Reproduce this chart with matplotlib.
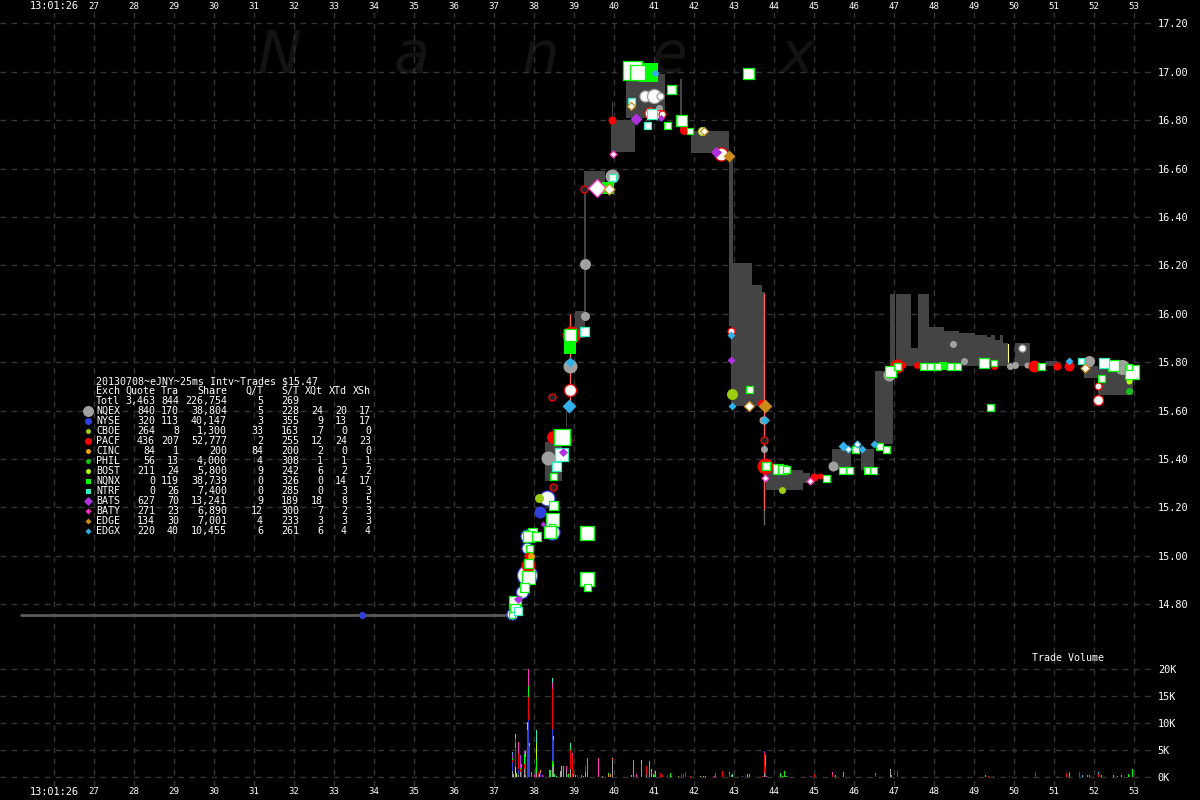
#!/usr/bin/env python3
"""Nanex style trade chart: 13:01:26 on 2013-07-08, eJNY, 25ms interval."""
import matplotlib
matplotlib.use("Agg")
import matplotlib.pyplot as plt

W, H = 1200, 800
BG = "#000000"
GRID = "#363636"
BAND = "#444444"
MONO = "DejaVu Sans Mono"

# summary table
EXCH = ["Totl", "NQEX", "NYSE", "CBOE", "PACF", "CINC", "PHIL", "BOST", "NQNX", "NTRF", "BATS", "BATY", "EDGE", "EDGX"]
QUOTE = [3463, 840, 320, 264, 436, 84, 56, 211, 0, 0, 627, 271, 134, 220]
TRA = [844, 170, 113, 8, 207, 1, 13, 24, 119, 26, 70, 23, 30, 40]
SHARE = [226754, 38804, 40147, 1300, 52777, 200, 4000, 5800, 38739, 7400, 13241, 6890, 7001, 10455]
Q_T = [5, 5, 3, 33, 2, 84, 4, 9, 0, 0, 9, 12, 4, 6]
S_T = [269, 228, 355, 163, 255, 200, 308, 242, 326, 285, 189, 300, 233, 261]
XQT = ["", 24, 9, 7, 12, 2, 1, 6, 0, 0, 18, 7, 3, 6]
XTD = ["", 20, 13, 0, 24, 0, 1, 2, 14, 3, 8, 2, 3, 4]
XSH = ["", 17, 17, 0, 23, 0, 1, 2, 17, 3, 5, 3, 3, 4]
LEGEND_SZ = [11, 7, 5, 7, 5, 5, 5, 5, 5, 9, 6, 6, 6]

COLORS = {"NQEX": "#a0a0a0", "NYSE": "#3040e0", "CBOE": "#9acd10", "PACF": "#ff0000", "CINC": "#f5a000",
          "PHIL": "#18c018", "BOST": "#b4ff00", "NQNX": "#00ff00", "NTRF": "#30f0c0", "BATS": "#b030e0",
          "BATY": "#ff30c0", "EDGE": "#c88a18", "EDGX": "#30b0e8"}
SHAPES = {"NQEX": "o", "NYSE": "o", "CBOE": "o", "PACF": "o", "CINC": "o", "PHIL": "o", "BOST": "o",
          "NQNX": "s", "NTRF": "s", "BATS": "D", "BATY": "D", "EDGE": "D", "EDGX": "D"}

# price axis ticks
PRICE_TICKS = [17.2, 17.0, 16.8, 16.6, 16.4, 16.2, 16.0, 15.8, 15.6, 15.4, 15.2, 15.0, 14.8]
VOL_TICKS = [0, 5000, 10000, 15000, 20000]
VOL_LABELS = ["0K", "5K", "10K", "15K", "20K"]
SECONDS = list(range(27, 54))

# quote band (best bid / offer) pieces
BAND_T0 = [38.27, 39.02, 39.24, 39.92, 40.29, 41.65, 39.93, 39.24, 38.80, 41.92, 42.86, 42.86, 42.92, 43.44, 43.69,
           43.79, 44.72, 45.44, 46.17, 46.52, 46.89, 47.04, 47.42, 47.59, 47.87, 48.24, 48.62, 49.02, 49.32, 49.42,
           49.52, 49.64, 49.72, 50.02, 50.79, 51.74, 52.09]
BAND_T1 = [38.69, 39.27, 39.77, 40.52, 41.27, 41.69, 39.96, 39.28, 38.83, 42.87, 42.96, 42.92, 43.44, 43.69, 43.77,
           44.72, 44.89, 45.92, 46.49, 46.97, 47.02, 47.42, 47.59, 47.87, 48.24, 48.62, 49.02, 49.32, 49.42, 49.52,
           49.64, 49.72, 49.84, 50.39, 51.09, 52.09, 52.97]
BAND_LO = [15.31, 15.90, 16.51, 16.67, 16.81, 16.76, 16.80, 15.99, 15.53, 16.665, 16.21, 15.95, 15.62, 15.62, 15.62,
           15.27, 15.30, 15.355, 15.355, 15.46, 15.765, 15.785, 15.785, 15.785, 15.785, 15.785, 15.785, 15.785,
           15.785, 15.785, 15.785, 15.785, 15.785, 15.785, 15.785, 15.735, 15.665]
BAND_HI = [15.47, 16.01, 16.59, 16.80, 16.99, 16.97, 16.875, 16.51, 15.60, 16.755, 16.635, 16.635, 16.21, 16.12, 16.09,
           15.355, 15.34, 15.44, 15.44, 15.765, 16.08, 16.08, 15.86, 16.08, 15.945, 15.93, 15.92, 15.91, 15.905, 15.91,
           15.89, 15.91, 15.88, 15.88, 15.805, 15.785, 15.77]

FLAT_T = [25.14, 37.4]
FLAT_P = [14.757, 14.757]

# kind: 0 quote (filled), 1 trade (white centre), 2 ring with dark centre
NQEX_T = [39.27, 39.27, 38.89, 38.34, 39.94, 43.74, 43.72, 45.47, 46.87, 48.47, 48.74, 49.89, 50.02, 50.32, 51.87, 52.69, 41.74, 41.12, 40.77, 40.99, 41.14, 50.19]
NQEX_P = [16.205, 15.99, 15.785, 15.405, 16.57, 15.44, 15.56, 15.37, 15.745, 15.875, 15.805, 15.785, 15.79, 15.79, 15.805, 15.78, 16.78, 16.85, 16.90, 16.90, 16.90, 15.86]
NQEX_SZ = [11, 9, 14, 14, 14, 7, 8, 10, 12, 7, 7, 7, 7, 6, 11, 15, 6, 7, 11, 14, 7, 7]
NQEX_K = [0, 0, 0, 0, 0, 0, 0, 0, 0, 0, 0, 0, 0, 0, 0, 0, 0, 0, 1, 1, 1, 1]

NYSE_T = [33.7, 38.14, 38.32, 38.44, 37.82, 37.82, 37.82, 37.69, 37.44]
NYSE_P = [14.757, 15.18, 15.24, 15.10, 15.08, 15.03, 14.92, 14.85, 14.76]
NYSE_SZ = [7, 12, 15, 15, 13, 11, 20, 12, 11]
NYSE_K = [0, 0, 1, 1, 1, 1, 1, 1, 1]

CBOE_T = [38.12, 42.94, 44.19, 42.19]
CBOE_P = [15.24, 15.67, 15.27, 16.755]
CBOE_SZ = [9, 11, 7, 8]
CBOE_K = [0, 0, 0, 1]

PACF_T = [39.94, 41.69, 41.74, 47.22, 47.57, 49.49, 50.49, 51.07, 51.37, 39.27, 37.84, 37.84, 38.47, 43.77, 47.07, 38.92,
          44.99, 45.14, 43.67, 42.67, 42.92, 52.09, 52.09, 38.89, 40.89, 41.09, 41.19, 39.24, 38.84, 38.44, 38.47, 43.74]
PACF_P = [16.80, 16.80, 16.76, 15.79, 15.79, 15.785, 15.785, 15.785, 15.785, 15.93, 14.96, 15.00, 15.49, 15.37, 15.785, 15.91,
          15.325, 15.33, 15.63, 16.66, 15.93, 15.645, 15.70, 15.685, 16.83, 16.825, 16.825, 16.515, 15.48, 15.655, 15.285, 15.48]
PACF_SZ = [8, 11, 9, 6, 7, 7, 12, 8, 10, 7, 14, 8, 13, 16, 14, 18, 8, 6, 7, 13, 7, 10, 7, 12, 11, 8, 7, 7, 7, 7, 7, 7]
PACF_K = [0, 0, 0, 0, 0, 0, 0, 0, 0, 0, 0, 0, 0, 0, 0, 0, 0, 0, 0, 1, 1, 1, 1, 1, 1, 1, 1, 2, 2, 2, 2, 2]

CINC_T = [37.92]
CINC_P = [15.00]
CINC_SZ = [7]
CINC_K = [0]

PHIL_T = [52.87]
PHIL_P = [15.68]
PHIL_SZ = [7]
PHIL_K = [0]

BOST_T = [52.87]
BOST_P = [15.72]
BOST_SZ = [6]
BOST_K = [0]

NQNX_T = [40.84, 39.84, 38.89, 48.22, 40.44, 40.57, 43.34, 41.42, 39.32, 39.32, 39.32, 52.94, 49.39, 47.72, 47.89, 48.07, 48.39, 48.57,
          46.89, 47.07, 49.24, 49.49, 50.67, 52.47, 52.17, 52.87, 43.37, 43.79, 44.09, 44.19, 44.29, 45.29, 45.69, 45.87, 46.02, 46.32, 46.47,
          46.62, 46.79, 38.69, 38.54, 38.47, 38.47, 38.44, 38.44, 38.39, 37.94, 37.84, 38.04, 37.87, 37.84, 37.84, 37.74, 37.52, 37.52, 37.44,
          41.32, 41.67, 41.89, 38.89]
NQNX_P = [17.0, 16.52, 15.86, 15.785, 17.005, 17.0, 16.995, 16.93, 15.095, 14.905, 14.87, 15.76, 15.615, 15.785, 15.785, 15.785, 15.785, 15.785,
          15.765, 15.785, 15.795, 15.795, 15.785, 15.79, 15.735, 15.78, 15.69, 15.37, 15.36, 15.36, 15.36, 15.32, 15.355, 15.355, 15.44, 15.355, 15.355,
          15.455, 15.44, 15.49, 15.37, 15.33, 15.21, 15.15, 15.12, 15.10, 15.10, 15.08, 15.08, 15.03, 14.97, 14.91, 14.87, 14.81, 14.78, 14.755,
          16.78, 16.80, 16.755, 15.91]
NQNX_SZ = [19, 12, 12, 8, 19, 15, 11, 9, 14, 14, 7, 14, 7, 7, 7, 7, 7, 7,
           11, 7, 10, 6, 7, 11, 7, 6, 7, 8, 10, 9, 7, 7, 7, 7, 7, 7, 7,
           7, 7, 16, 8, 7, 9, 13, 6, 12, 9, 11, 9, 7, 9, 13, 9, 12, 10, 6,
           7, 11, 6, 12]
NQNX_K = [0, 0, 0, 0] + [1] * 56

NTRF_T = [40.42, 39.94, 40.82, 40.94, 39.24, 38.67, 38.54, 52.24, 51.67, 37.59]
NTRF_P = [16.88, 16.565, 16.78, 16.825, 15.93, 15.42, 15.37, 15.795, 15.805, 14.77]
NTRF_SZ = [7, 7, 7, 10, 9, 13, 9, 10, 6, 8]
NTRF_K = [1] * 10

BATS_T = [40.54, 42.92, 42.54, 38.72, 37.59, 41.17, 38.22]
BATS_P = [16.805, 15.81, 16.67, 15.43, 14.82, 16.81, 15.13]
BATS_SZ = [12, 8, 11, 9, 9, 7, 6]
BATS_K = [0] * 7

BATY_T = [39.57, 39.97, 43.77, 44.89]
BATY_P = [16.52, 16.66, 15.32, 15.31]
BATY_SZ = [18, 7, 7, 7]
BATY_K = [1, 1, 1, 1]

EDGE_T = [42.87, 43.77, 39.87, 40.42, 42.24, 51.77, 43.37]
EDGE_P = [16.65, 15.62, 16.515, 16.86, 16.755, 15.775, 15.62]
EDGE_SZ = [12, 14, 11, 8, 8, 9, 10]
EDGE_K = [0, 0, 1, 1, 1, 1, 1]

EDGX_T = [38.87, 41.02, 42.92, 42.94, 43.77, 45.72, 46.19, 46.49, 51.37, 38.89, 45.84, 46.07]
EDGX_P = [15.62, 16.995, 15.91, 15.62, 15.56, 15.455, 15.44, 15.46, 15.805, 15.80, 15.44, 15.46]
EDGX_SZ = [14, 8, 8, 8, 9, 10, 8, 8, 8, 10, 7, 7]
EDGX_K = [0, 0, 0, 0, 0, 0, 0, 0, 0, 0, 1, 1]

# trade volume, stacked per interval in listed order
VOL_T = [37.45, 37.45, 37.45, 37.45, 37.45, 37.45, 37.47, 37.52, 37.52, 37.52, 37.52, 37.52, 37.52, 37.52, 37.55, 37.6, 37.6, 37.6, 37.6,
         37.65, 37.65, 37.65, 37.65, 37.67, 37.67, 37.75, 37.75, 37.75, 37.75, 37.77, 37.77, 37.77, 37.82, 37.82, 37.82,
         37.85, 37.85, 37.85, 37.85, 37.87, 37.87, 37.87, 37.92, 38.0, 38.02, 38.05, 38.05, 38.05, 38.05, 38.1, 38.13, 38.15, 38.15, 38.2, 38.22,
         38.37, 38.41, 38.45, 38.45, 38.45, 38.45, 38.45, 38.45, 38.47, 38.47, 38.47, 38.5, 38.55, 38.66, 38.67, 38.72, 38.8, 38.8, 38.82, 38.85, 38.85,
         38.9, 38.9, 38.9, 38.9, 38.95, 38.95, 38.97, 39.02, 39.07, 39.17, 39.22, 39.27, 39.27, 39.32, 39.6, 39.7, 39.85, 39.85, 39.9, 39.95, 39.95, 39.95,
         40.42, 40.47, 40.55, 40.67, 40.67, 40.8, 40.8, 40.87, 40.92, 40.92, 40.97, 41.0, 41.02, 41.02, 41.15, 41.2, 41.32, 41.4, 41.42,
         41.6, 41.67, 41.72, 41.77, 41.9, 42.15, 42.22, 42.27, 42.5, 42.52, 42.7, 42.87, 42.87, 42.92, 42.95, 43.2, 43.33, 43.37, 43.7,
         43.75, 43.75, 43.75, 43.77, 43.77, 43.8, 44.15, 44.2, 44.25, 44.3,
         44.9, 45.0, 45.45, 45.45, 45.52, 45.73, 46.52, 46.52, 46.9, 46.92, 47.07, 49.27, 49.36, 49.49, 49.87, 50.52, 51.07, 51.31, 51.37, 51.37,
         51.62, 51.7, 51.82, 51.87, 52.1, 52.1, 52.17, 52.47, 52.57, 52.67, 52.85, 52.87, 52.95]
VOL_EX = ["NQEX", "NYSE", "PACF", "NQNX", "BATS", "EDGX", "NQEX", "NQEX", "BOST", "NYSE", "PACF", "NQNX", "BATS", "NTRF", "BOST", "NQEX", "NYSE", "PACF", "BATY",
          "NQEX", "PACF", "NQNX", "BATS", "PACF", "NQNX", "NQEX", "PACF", "NQNX", "BATS", "NQEX", "NYSE", "CBOE", "NYSE", "PACF", "NTRF",
          "NYSE", "PACF", "NQNX", "BATY", "NYSE", "PACF", "NTRF", "NQNX", "BATY", "NYSE", "NQEX", "NQNX", "BOST", "NTRF", "PACF", "BOST", "NYSE", "CINC", "BATY", "NYSE",
          "NQNX", "NQNX", "NQEX", "NQNX", "NYSE", "PACF", "BATY", "NTRF", "NQEX", "NYSE", "NTRF", "NQNX", "NTRF", "NQEX", "NTRF", "NQNX", "NQEX", "BATY", "PACF", "NQNX", "PACF",
          "NQEX", "PACF", "NQNX", "NTRF", "PACF", "BATY", "NQNX", "NQEX", "PACF", "NQNX", "NQNX", "NQEX", "PACF", "NQNX", "BATY", "NQEX", "CINC", "NQNX", "CINC", "NQEX", "PACF", "BOST",
          "NQEX", "NQNX", "BATY", "NQNX", "NTRF", "NQEX", "PACF", "NQNX", "NQEX", "CBOE", "NQEX", "NQNX", "NQEX", "NTRF", "PACF", "PACF", "PACF", "NQNX", "PHIL",
          "CINC", "PACF", "PACF", "PACF", "PACF", "CBOE", "CBOE", "CBOE", "BATY", "BATS", "PACF", "PACF", "EDGX", "EDGE", "NTRF", "BATS", "NQNX", "NQNX", "PACF",
          "NQEX", "PACF", "BATS", "PACF", "NQNX", "BATY", "NQNX", "NQNX", "NQNX", "NQNX",
          "BATS", "PACF", "PACF", "BATY", "NQEX", "EDGX", "PACF", "EDGX", "NQEX", "NQNX", "PACF", "NQNX", "PACF", "PACF", "PACF", "PACF", "PACF", "PACF", "NQNX", "EDGX",
          "PACF", "EDGX", "EDGE", "NQEX", "PACF", "EDGX", "NQNX", "NQNX", "EDGE", "NQEX", "NQNX", "PACF", "NQNX"]
VOL_S = [1200, 1500, 400, 500, 500, 500, 600, 800, 1000, 2000, 1500, 1000, 1000, 700, 800, 400, 1000, 3000, 2100,
         1000, 500, 200, 2400, 1800, 700, 1500, 1000, 1800, 600, 300, 3400, 1100, 3300, 5500, 1400,
         10600, 4200, 2100, 3100, 5400, 300, 600, 1000, 300, 1900, 800, 2500, 3000, 2500, 900, 500, 700, 600, 400, 200,
         1300, 1300, 1900, 1000, 6000, 7500, 1000, 1000, 2500, 4400, 700, 500, 100, 1100, 2000, 2000, 1100, 900, 300, 500, 200,
         1500, 3500, 400, 900, 4100, 300, 500, 300, 400, 300, 100, 1000, 1000, 3600, 3500, 100, 300, 500, 600, 3100, 300, 100,
         300, 3100, 500, 2500, 700, 300, 1800, 2900, 900, 500, 600, 300, 600, 500, 800, 300, 300, 700, 200,
         200, 500, 500, 900, 200, 100, 200, 100, 200, 700, 1100, 500, 400, 300, 500, 100, 500, 500, 200,
         700, 3800, 300, 2000, 2000, 200, 700, 100, 1100, 100,
         250, 500, 400, 500, 300, 850, 400, 300, 1500, 350, 1100, 300, 250, 250, 250, 950, 120, 750, 500, 400,
         900, 300, 350, 350, 600, 300, 400, 350, 250, 450, 500, 300, 1400]


def fig_xy(x, y):
    return x / W, 1 - y / H


def marker_area(shape, width):
    # width in pixels across the marker, scatter wants points squared
    pts = width * 72 / 100
    if shape == "D":
        pts = pts / 1.414
    return pts * pts


def draw_exchange(ax, name, t, p, sz, kind):
    color = COLORS[name]
    shape = SHAPES[name]
    faces = {0: color, 1: "white", 2: "#262626"}
    for i in range(len(t)):
        ax.scatter(t[i], p[i], s=marker_area(shape, sz[i]), marker=shape, facecolor=faces[kind[i]],
                   edgecolor=color, linewidths=0 if kind[i] == 0 else 0.9, zorder=5)


def draw_table(fig):
    x_right = [155, 179, 227, 263, 299, 323, 347, 371]
    heads = ["Quote", "Tra", "Share", "Q/T", "S/T", "XQt", "XTd", "XSh"]
    # baseline so rows with commas sit level with the others
    kw = dict(family=MONO, fontsize=7.2, color="white", va="baseline", zorder=8)
    fig.text(*fig_xy(96, 384), "20130708~eJNY~25ms Intv~Trades $15.47", ha="left", **kw)
    fig.text(*fig_xy(96, 394), "Exch", ha="left", **kw)
    for x, head in zip(x_right, heads):
        fig.text(*fig_xy(x, 394), head, ha="right", **kw)
    for i, name in enumerate(EXCH):
        y = 404 + i * 10
        cells = [f"{QUOTE[i]:,}", f"{TRA[i]}", f"{SHARE[i]:,}", f"{Q_T[i]}", f"{S_T[i]}", f"{XQT[i]}", f"{XTD[i]}", f"{XSH[i]}"]
        fig.text(*fig_xy(96, y), name, ha="left", **kw)
        for x, cell in zip(x_right, cells):
            fig.text(*fig_xy(x, y), cell, ha="right", **kw)


def draw_legend(ax, fig):
    for i, name in enumerate(EXCH[1:]):
        fx, fy = fig_xy(88.3, 410.5 + i * 10)
        ax.scatter(fx, fy, s=marker_area(SHAPES[name], LEGEND_SZ[i]), marker=SHAPES[name], color=COLORS[name],
                   linewidths=0, transform=fig.transFigure, clip_on=False, zorder=9)


def main():
    plt.rcParams["font.family"] = MONO
    fig = plt.figure(figsize=(W / 100, H / 100), dpi=100, facecolor=BG)

    # main price panel covers pixel rows 12..640, volume panel 640..786
    ax = fig.add_axes([0, 1 - 640 / H, 1155 / W, 628 / H], facecolor="none")
    vol = fig.add_axes([0, 1 - 786 / H, 1155 / W, 146 / H], facecolor="none")

    xlim = (24.6425, 53.5175)
    ax.set_xlim(*xlim)
    ax.set_ylim(14.6517, 17.2467)
    vol.set_xlim(*xlim)
    vol.set_ylim(-1671, 25440)

    for a in (ax, vol):
        for spine in a.spines.values():
            spine.set_visible(False)
        a.set_axisbelow(True)
        a.grid(True, color=GRID, linewidth=1.0, linestyle=(0, (4, 4)))
        a.yaxis.tick_right()
        a.set_xticks([26] + SECONDS)
        a.tick_params(length=0, colors="white")
        a.tick_params(axis="y", pad=2, labelsize=7.4)
        a.tick_params(axis="x", labelsize=6.6)

    stamp = ["13:01:26"] + [str(s) for s in SECONDS]
    ax.set_xticklabels(stamp)
    ax.tick_params(axis="x", top=False, bottom=False, labeltop=True, labelbottom=False, pad=1)
    vol.set_xticklabels(stamp)
    vol.tick_params(axis="x", pad=1)
    for lab in (ax.get_xticklabels()[0], vol.get_xticklabels()[0]):
        lab.set_fontsize(7.4)

    ax.set_yticks(PRICE_TICKS)
    ax.set_yticklabels([f"{p:.2f}" for p in PRICE_TICKS])
    vol.set_yticks(VOL_TICKS)
    vol.set_yticklabels(VOL_LABELS)

    ax.text(*fig_xy(258, 73), "N     a     n     e     x", transform=fig.transFigure, family="DejaVu Sans",
            style="oblique", fontsize=42, color="#131313", ha="left", va="baseline", zorder=0.5)

    # quote band and thin lines
    for t0, t1, lo, hi in zip(BAND_T0, BAND_T1, BAND_LO, BAND_HI):
        ax.fill_between([t0, t1], [lo, lo], [hi, hi], color=BAND, linewidth=0, zorder=2)
    ax.plot(FLAT_T, FLAT_P, color="#5c5c5c", linewidth=2.0, solid_capstyle="butt", zorder=3)
    ax.plot([43.75, 43.75], [16.08, 15.19], color="#ff6060", linewidth=1.0, zorder=3)
    ax.plot([43.75, 43.75], [15.19, 15.13], color="#666666", linewidth=1.0, zorder=3)
    ax.plot([38.89, 38.89], [15.995, 15.645], color="#ff6060", linewidth=1.0, zorder=3)
    ax.plot([49.84, 49.84], [15.875, 15.80], color="#ffff66", linewidth=0.8, zorder=3)

    draw_exchange(ax, "NQEX", NQEX_T, NQEX_P, NQEX_SZ, NQEX_K)
    draw_exchange(ax, "NYSE", NYSE_T, NYSE_P, NYSE_SZ, NYSE_K)
    draw_exchange(ax, "CBOE", CBOE_T, CBOE_P, CBOE_SZ, CBOE_K)
    draw_exchange(ax, "PACF", PACF_T, PACF_P, PACF_SZ, PACF_K)
    draw_exchange(ax, "CINC", CINC_T, CINC_P, CINC_SZ, CINC_K)
    draw_exchange(ax, "PHIL", PHIL_T, PHIL_P, PHIL_SZ, PHIL_K)
    draw_exchange(ax, "BOST", BOST_T, BOST_P, BOST_SZ, BOST_K)
    draw_exchange(ax, "NQNX", NQNX_T, NQNX_P, NQNX_SZ, NQNX_K)
    draw_exchange(ax, "NTRF", NTRF_T, NTRF_P, NTRF_SZ, NTRF_K)
    draw_exchange(ax, "BATS", BATS_T, BATS_P, BATS_SZ, BATS_K)
    draw_exchange(ax, "BATY", BATY_T, BATY_P, BATY_SZ, BATY_K)
    draw_exchange(ax, "EDGE", EDGE_T, EDGE_P, EDGE_SZ, EDGE_K)
    draw_exchange(ax, "EDGX", EDGX_T, EDGX_P, EDGX_SZ, EDGX_K)

    # stacked volume bars, one pixel wide
    stacked = {}
    for t, ex, s in zip(VOL_T, VOL_EX, VOL_S):
        bottom = stacked.get(t, 0)
        vol.bar(t, s, width=0.028, bottom=bottom, color=COLORS[ex], linewidth=0, antialiased=False, zorder=3)
        stacked[t] = bottom + s

    draw_table(fig)
    draw_legend(ax, fig)
    fig.text(*fig_xy(1032, 658), "Trade Volume", family=MONO, fontsize=7.2, color="white", ha="left", va="center")

    fig.savefig("out.png", dpi=100, facecolor=BG)


if __name__ == "__main__":
    main()
